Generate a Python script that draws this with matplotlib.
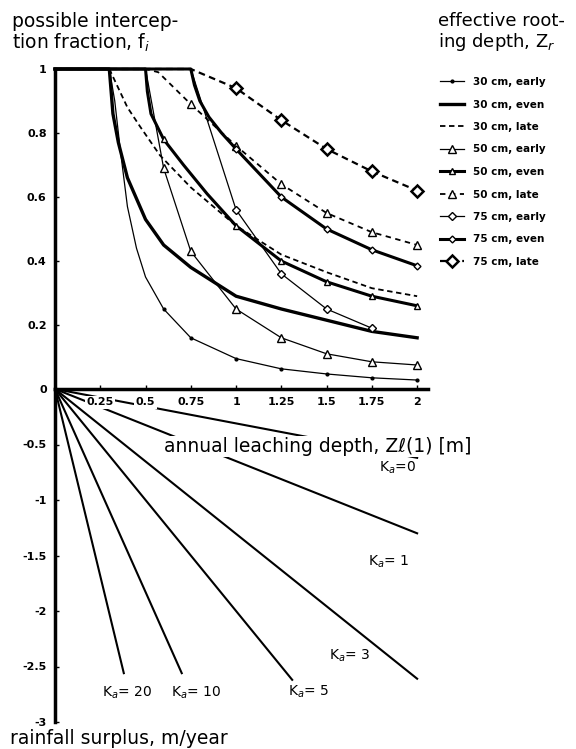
import matplotlib
matplotlib.use('Agg')
from matplotlib import pyplot as plt

plt.rcParams['font.family'] = ['DejaVu Sans']
plt.rcParams['axes.unicode_minus'] = False

# upper panel: possible interception fraction vs annual leaching depth
x30_early = [0, 0.3, 0.33, 0.36, 0.4, 0.45, 0.5, 0.6, 0.75, 1.0, 1.25, 1.5, 1.75, 2.0]
f30_early = [1, 1, 0.9, 0.75, 0.57, 0.44, 0.35, 0.25, 0.16, 0.095, 0.063, 0.047, 0.035, 0.028]
x30_even = [0, 0.3, 0.32, 0.35, 0.4, 0.5, 0.6, 0.75, 1.0, 1.25, 1.5, 1.75, 2.0]
f30_even = [1, 1, 0.86, 0.77, 0.66, 0.53, 0.45, 0.38, 0.29, 0.25, 0.215, 0.18, 0.16]
x30_late = [0, 0.3, 0.35, 0.4, 0.47, 0.58, 0.75, 1.0, 1.25, 1.5, 1.75, 2.0]
f30_late = [1, 1, 0.94, 0.88, 0.82, 0.73, 0.63, 0.51, 0.42, 0.365, 0.315, 0.29]
x50_early = [0, 0.5, 0.6, 0.75, 1.0, 1.25, 1.5, 1.75, 2.0]
f50_early = [1, 1, 0.69, 0.43, 0.25, 0.16, 0.11, 0.085, 0.075]
x50_even = [0, 0.5, 0.51, 0.53, 0.6, 0.71, 0.84, 1.0, 1.25, 1.5, 1.75, 2.0]
f50_even = [1, 1, 0.93, 0.86, 0.78, 0.70, 0.61, 0.51, 0.40, 0.335, 0.29, 0.26]
x50_late = [0, 0.5, 0.57, 0.75, 1.0, 1.25, 1.5, 1.75, 2.0]
f50_late = [1, 1, 0.99, 0.89, 0.76, 0.64, 0.55, 0.49, 0.45]
x75_early = [0, 0.75, 1.0, 1.25, 1.5, 1.75]
f75_early = [1, 1, 0.56, 0.36, 0.25, 0.19]
x75_even = [0, 0.75, 0.77, 0.8, 0.85, 0.92, 1.0, 1.25, 1.5, 1.75, 2.0]
f75_even = [1, 1, 0.95, 0.9, 0.85, 0.80, 0.75, 0.60, 0.50, 0.435, 0.385]
x75_late = [0, 0.75, 1.0, 1.25, 1.5, 1.75, 2.0]
f75_late = [1, 1, 0.94, 0.84, 0.75, 0.68, 0.62]

# lower panel: rainfall surplus lines for each K_a
ka_values = ['0', '1', '3', '5', '10', '20']
ka_end_x = [2.0, 2.0, 2.0, 1.31, 0.70, 0.38]
ka_end_y = [-0.62, -1.30, -2.61, -2.62, -2.56, -2.56]

x_ticks = [0.25, 0.5, 0.75, 1, 1.25, 1.5, 1.75, 2]
x_tick_labels = ['0.25', '0.5', '0.75', '1', '1.25', '1.5', '1.75', '2']
f_ticks = [0, 0.2, 0.4, 0.6, 0.8, 1]
f_tick_labels = ['0', '0.2', '0.4', '0.6', '0.8', '1']
s_ticks = [-0.5, -1, -1.5, -2, -2.5, -3]
s_tick_labels = ['-0.5', '-1', '-1.5', '-2', '-2.5', '-3']

MARK_X = [0.6, 0.75, 1.0, 1.25, 1.5, 1.75, 2.0]


def marks(x, f):
    # markers only at the grid points below the plateau
    return [i for i in range(len(x)) if x[i] in MARK_X and f[i] < 1]


fig = plt.figure(figsize=(5.76, 7.49), dpi=100)
W, H = 576.0, 749.0
left, right = 55, 428
ax_top = fig.add_axes([left / W, (H - 389) / H, (right - left) / W, 326.4 / H])
ax_bot = fig.add_axes([left / W, (H - 722) / H, (right - left) / W, 333 / H])
ax_top.set_zorder(2)
ax_top.patch.set_alpha(0)

series = [
    (x30_early, f30_early, '30 cm, early', dict(ls='-', lw=0.9, marker='o', ms=2)),
    (x30_even, f30_even, '30 cm, even', dict(ls='-', lw=2.4)),
    (x30_late, f30_late, '30 cm, late', dict(ls=(0, (3, 2)), lw=1.3)),
    (x50_early, f50_early, '50 cm, early', dict(ls='-', lw=0.9, marker='^', ms=6, mfc='white')),
    (x50_even, f50_even, '50 cm, even', dict(ls='-', lw=2.2, marker='^', ms=4, mfc='white')),
    (x50_late, f50_late, '50 cm, late', dict(ls=(0, (3, 2.5)), lw=1.3, marker='^', ms=6, mfc='white')),
    (x75_early, f75_early, '75 cm, early', dict(ls='-', lw=0.9, marker='D', ms=4, mfc='white')),
    (x75_even, f75_even, '75 cm, even', dict(ls='-', lw=2.2, marker='D', ms=3.5, mfc='white')),
    (x75_late, f75_late, '75 cm, late', dict(ls=(0, (3, 2)), lw=1.6, marker='D', ms=6, mfc='white', mew=1.8)),
]
for x, f, label, style in series:
    ax_top.plot(x, f, color='black', label=label, markevery=marks(x, f), clip_on=False, **style)

ax_top.set_xlim(0, 2.06)
ax_top.set_ylim(0, 1.02)
for s in ['top', 'right']:
    ax_top.spines[s].set_visible(False)
ax_top.spines['left'].set_bounds(0, 1)
ax_top.spines['left'].set_linewidth(2.5)
ax_top.spines['bottom'].set_linewidth(2.5)
ax_top.set_xticks(x_ticks)
ax_top.set_xticklabels(x_tick_labels, fontsize=8, fontweight='bold')
ax_top.set_yticks(f_ticks)
ax_top.set_yticklabels(f_tick_labels, fontsize=8, fontweight='bold')
ax_top.tick_params(direction='in', length=3, width=1, pad=6)
for t in ax_top.get_xticklabels():
    t.set_bbox(dict(facecolor='white', edgecolor='none', pad=1))

ax_top.set_ylabel('possible intercep-\ntion fraction, f$_i$', rotation=0, fontsize=13.5,
                  ha='left', va='bottom', multialignment='left', linespacing=1.0)
ax_top.yaxis.set_label_coords(-0.115, 1.027)
ax_top.set_xlabel('annual leaching depth, Zℓ(1) [m]', fontsize=13.5,
                  bbox=dict(facecolor='white', edgecolor='none', pad=1))
ax_top.xaxis.set_label_coords(0.705, -0.147)

# lower panel
for kv, ex, ey in zip(ka_values, ka_end_x, ka_end_y):
    ax_bot.plot([0, ex], [0, ey], color='black', lw=1.5)

ka_label_pos = [(1.89, -0.71), (1.84, -1.56), (1.63, -2.40), (1.40, -2.73), (0.78, -2.74), (0.40, -2.74)]
for kv, (lx, ly) in zip(ka_values, ka_label_pos):
    sep = '=' if kv == '0' else '= '
    ax_bot.text(lx, ly, 'K$_a$' + sep + kv, fontsize=10, ha='center', va='center')

ax_bot.set_xlim(0, 2.06)
ax_bot.set_ylim(-3, 0)
for s in ['top', 'right', 'bottom']:
    ax_bot.spines[s].set_visible(False)
ax_bot.spines['left'].set_linewidth(2.5)
ax_bot.set_xticks([])
ax_bot.set_yticks(s_ticks)
ax_bot.set_yticklabels(s_tick_labels, fontsize=8, fontweight='bold')
ax_bot.tick_params(direction='in', length=3, width=1, pad=6)
ax_bot.set_ylabel('rainfall surplus, m/year', rotation=0, fontsize=13.5, ha='left', va='top')
ax_bot.yaxis.set_label_coords(-0.12, -0.022)

fig.text(438 / W, 1 - 12 / H, 'effective root-\ning depth, Z$_r$', fontsize=13,
         ha='left', va='top', linespacing=1.05)
leg = fig.legend(*ax_top.get_legend_handles_labels(), loc='upper left',
                 bbox_to_anchor=(440 / W, 1 - 77 / H), frameon=False,
                 prop=dict(size=7.5, weight='bold'), handlelength=2.3,
                 handletextpad=0.9, labelspacing=1.2, borderaxespad=0, borderpad=0)

fig.savefig('out.png', dpi=100)
